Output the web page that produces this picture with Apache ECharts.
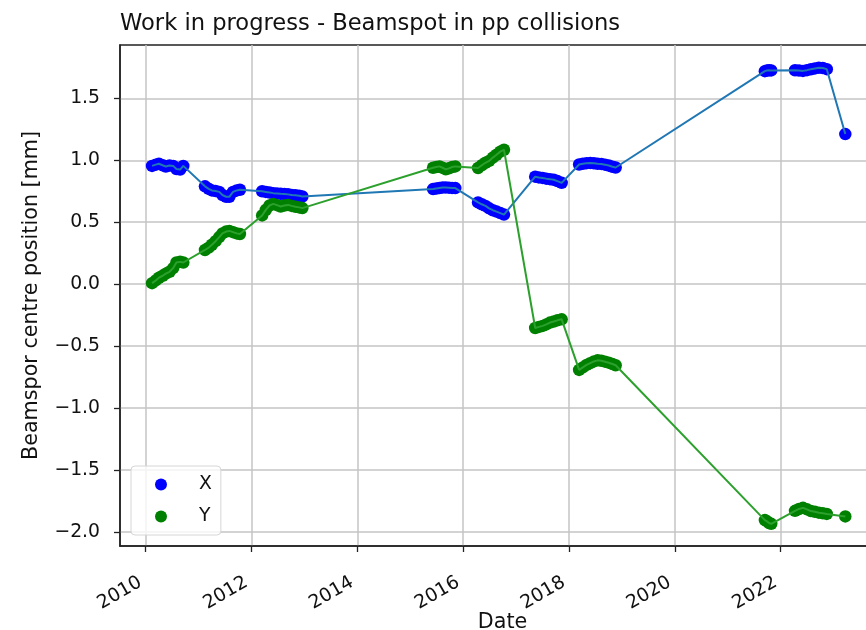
<!DOCTYPE html>
<html>
<head>
<meta charset="utf-8">
<script src="https://cdn.jsdelivr.net/npm/echarts@6/dist/echarts.min.js"></script>
<style>
html, body { margin: 0; padding: 0; background: #fff; }
#chart { width: 866px; height: 630px; }
</style>
</head>
<body>
<div id="chart"></div>
<script>
// fill dates as decimal years (shared by X and Y)
var dates = [
    2010.12, 2010.19, 2010.25, 2010.32, 2010.38, 2010.45, 2010.52, 2010.58, 2010.65, 2010.71,
    2011.12, 2011.19, 2011.25, 2011.32, 2011.39, 2011.45, 2011.52, 2011.58, 2011.65, 2011.72, 2011.78,
    2012.20, 2012.27, 2012.34, 2012.41, 2012.48, 2012.55, 2012.62, 2012.69, 2012.76, 2012.83, 2012.90, 2012.96,
    2015.43, 2015.49, 2015.55, 2015.61, 2015.67, 2015.73, 2015.79, 2015.85,
    2016.28, 2016.35, 2016.42, 2016.49, 2016.56, 2016.63, 2016.70, 2016.77,
    2017.36, 2017.43, 2017.50, 2017.57, 2017.64, 2017.71, 2017.78, 2017.86,
    2018.19, 2018.26, 2018.33, 2018.40, 2018.47, 2018.54, 2018.61, 2018.68, 2018.75, 2018.82, 2018.88,
    2021.70, 2021.74, 2021.78, 2021.82,
    2022.27, 2022.345, 2022.42, 2022.495, 2022.57, 2022.645, 2022.72, 2022.795, 2022.87,
    2023.22
];
// beamspot X position [mm]
var posX = [
    0.955, 0.965, 0.972, 0.960, 0.950, 0.958, 0.955, 0.930, 0.925, 0.955,
    0.790, 0.770, 0.757, 0.752, 0.745, 0.720, 0.706, 0.705, 0.745, 0.757, 0.762,
    0.750, 0.745, 0.740, 0.735, 0.733, 0.730, 0.728, 0.725, 0.720, 0.717, 0.714, 0.708,
    0.768, 0.772, 0.776, 0.780, 0.781, 0.779, 0.777, 0.776,
    0.660, 0.645, 0.632, 0.612, 0.597, 0.586, 0.574, 0.562,
    0.868, 0.862, 0.858, 0.852, 0.848, 0.843, 0.832, 0.818,
    0.966, 0.972, 0.977, 0.979, 0.976, 0.972, 0.971, 0.965, 0.958, 0.948, 0.942,
    1.720, 1.725, 1.727, 1.726,
    1.727, 1.725, 1.722, 1.728, 1.735, 1.742, 1.748, 1.745, 1.736,
    1.212
];
// beamspot Y position [mm]
var posY = [
    0.008, 0.030, 0.052, 0.068, 0.085, 0.100, 0.130, 0.175, 0.180, 0.175,
    0.276, 0.295, 0.318, 0.347, 0.380, 0.410, 0.425, 0.430, 0.420, 0.410, 0.405,
    0.555, 0.600, 0.635, 0.648, 0.638, 0.627, 0.635, 0.640, 0.632, 0.625, 0.620, 0.614,
    0.940, 0.946, 0.951, 0.940, 0.927, 0.935, 0.946, 0.951,
    0.938, 0.960, 0.980, 0.995, 1.022, 1.045, 1.070, 1.085,
    -0.354, -0.345, -0.337, -0.325, -0.310, -0.302, -0.292, -0.284,
    -0.692, -0.672, -0.652, -0.638, -0.624, -0.615, -0.618, -0.626, -0.634, -0.645, -0.655,
    -1.905, -1.915, -1.928, -1.935,
    -1.830, -1.815, -1.806, -1.818, -1.832, -1.838, -1.845, -1.850, -1.855,
    -1.875
];
var xTicks = [2010, 2012, 2014, 2016, 2018, 2020, 2022];
var yTicks = [-2.0, -1.5, -1.0, -0.5, 0.0, 0.5, 1.0, 1.5];

var FONT = 'DejaVu Sans';
var INK = '#111';
var SPINE = '#222';
var GRIDC = '#c4c4c4';

function pairs(vals) {
    var out = [];
    for (var i = 0; i < dates.length; i++) {
        out.push([dates[i], vals[i]]);
    }
    return out;
}

function fmtY(v) {
    var s = Math.abs(v).toFixed(1);
    return v < -1e-9 ? '\u2212' + s : s;
}

var myChart = echarts.init(document.getElementById('chart'));
var option = {
    animation: false,
    backgroundColor: '#fff',
    title: {
        text: 'Work in progress - Beamspot in pp collisions',
        left: 120,
        top: 13,
        padding: 0,
        textStyle: { fontFamily: FONT, fontSize: 22.6, fontWeight: 'normal', color: INK }
    },
    grid: {
        left: 120, top: 45, width: 765, height: 501,
        outerBoundsMode: 'none', containLabel: false,
        show: true, borderColor: SPINE, borderWidth: 1.5, backgroundColor: 'transparent'
    },
    legend: {
        data: ['X', 'Y'],
        orient: 'vertical',
        left: 131, top: 466,
        padding: [9, 9, 9, 24],
        itemWidth: 20, itemHeight: 12, itemGap: 13,
        icon: 'circle',
        z: 10,
        textStyle: { fontFamily: FONT, fontSize: 18.8, color: INK, padding: [0, 0, 0, 23] },
        backgroundColor: 'rgba(255,255,255,0.8)',
        borderColor: '#d6d6d6', borderWidth: 1, borderRadius: 4
    },
    xAxis: {
        type: 'value',
        min: 2009.514, max: 2023.97, splitNumber: 7,
        name: 'Date', nameLocation: 'middle', nameGap: 66, nameMoveOverlap: false,
        nameTextStyle: { fontFamily: FONT, fontSize: 20.7, color: INK },
        axisLine: { show: true, onZero: false, lineStyle: { color: SPINE, width: 1.5 } },
        axisTick: { show: true, length: 6, customValues: xTicks, lineStyle: { color: SPINE, width: 1.3 } },
        axisLabel: {
            customValues: xTicks, rotate: 30, margin: 32, padding: [0, 6, 0, 0],
            fontFamily: FONT, fontSize: 18.8, color: INK,
            formatter: function (v) { return String(Math.round(v)); }
        },
        splitLine: { show: true, lineStyle: { color: GRIDC, width: 1.5 } }
    },
    yAxis: {
        type: 'value',
        min: -2.114, max: 1.931, splitNumber: 8,
        name: 'Beamspor centre position [mm]', nameLocation: 'middle', nameGap: 78, nameMoveOverlap: false,
        nameTextStyle: { fontFamily: FONT, fontSize: 20.7, color: INK },
        axisLine: { show: true, lineStyle: { color: SPINE, width: 1.5 } },
        axisTick: { show: true, length: 6, customValues: yTicks, lineStyle: { color: SPINE, width: 1.3 } },
        axisLabel: {
            customValues: yTicks, margin: 20,
            fontFamily: FONT, fontSize: 18.8, color: INK,
            formatter: fmtY
        },
        splitLine: { show: true, lineStyle: { color: GRIDC, width: 1.5 } }
    },
    series: [
        {
            name: 'X', type: 'scatter', data: pairs(posX),
            symbol: 'circle', symbolSize: 12.5, z: 2,
            itemStyle: { color: '#0000ff', opacity: 1 }
        },
        {
            name: 'Y', type: 'scatter', data: pairs(posY),
            symbol: 'circle', symbolSize: 12.5, z: 3,
            itemStyle: { color: '#008000', opacity: 1 }
        },
        {
            name: 'X line', type: 'line', data: pairs(posX),
            showSymbol: false, z: 4,
            lineStyle: { color: '#1f77b4', width: 2 }
        },
        {
            name: 'Y line', type: 'line', data: pairs(posY),
            showSymbol: false, z: 5,
            lineStyle: { color: '#2ca02c', width: 2 }
        }
    ]
};
myChart.setOption(option);
</script>
</body>
</html>
